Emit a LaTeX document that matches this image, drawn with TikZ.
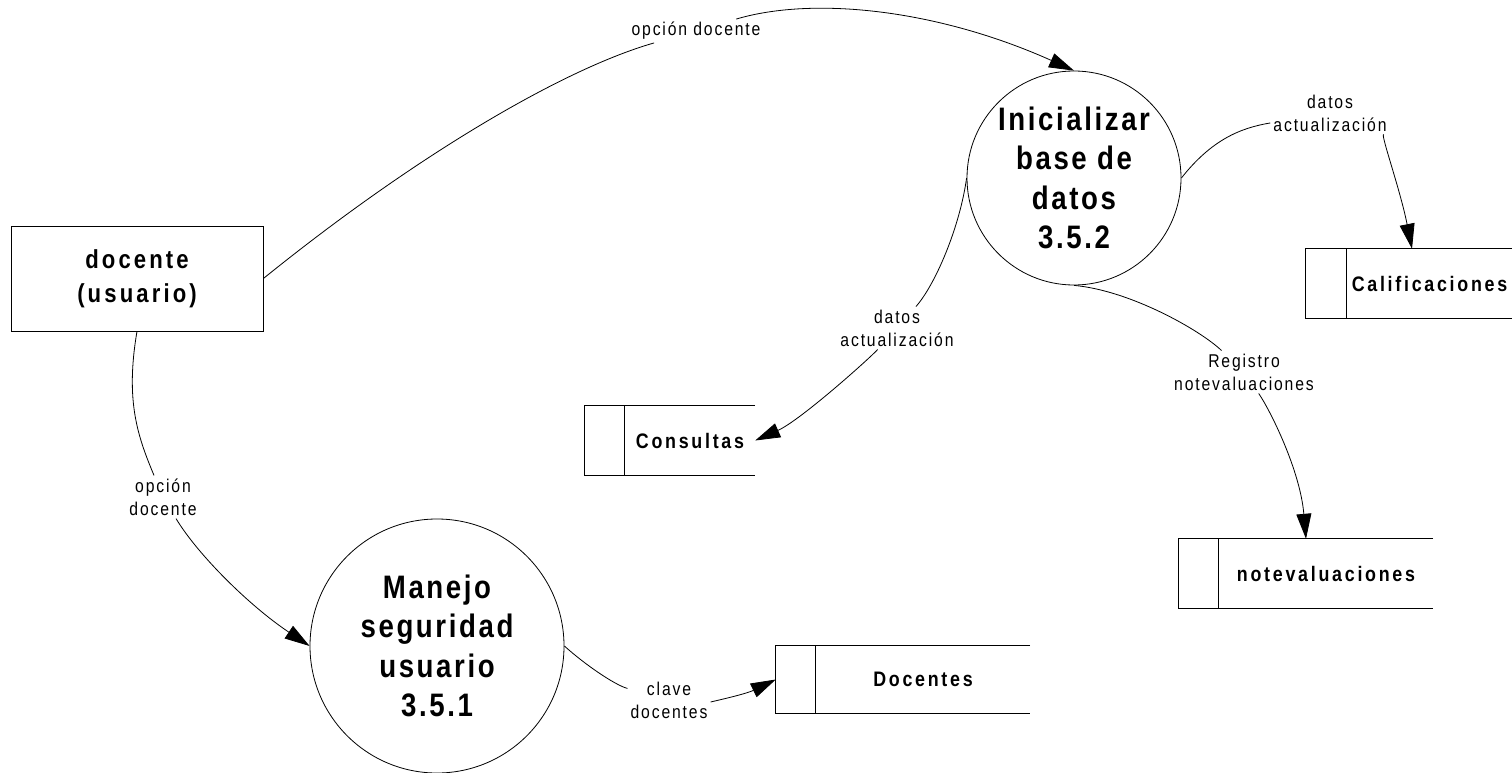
\documentclass[tikz,border=0pt]{standalone}
\usepackage{fontspec}
\setmainfont{Liberation Sans}
% narrow, tracked sans for the diagram texts
\newfontfamily\procfont[FakeStretch=0.85,LetterSpace=8]{Liberation Sans}
\newfontfamily\entfont[FakeStretch=0.85,LetterSpace=12]{Liberation Sans}
\newfontfamily\storefont[FakeStretch=0.85,LetterSpace=13]{Liberation Sans}
\newfontfamily\flowfont[FakeStretch=0.85,LetterSpace=10]{Liberation Sans}
\usetikzlibrary{arrows.meta,calc}

\begin{document}
\begin{tikzpicture}[x=1pt,y=-1pt,
  line/.style={line width=0.8pt, draw=black},
  flow/.style={line, -{Triangle[length=25pt,width=15pt]}},
  entity/.style={draw, line width=0.8pt, minimum width=252pt, minimum height=105pt,
    inner sep=0pt, align=center, font=\entfont\bfseries\fontsize{26}{34}\selectfont},
  process/.style={draw, circle, line width=0.8pt, inner sep=0pt, align=center,
    font=\procfont\bfseries\fontsize{32.5}{39.5}\selectfont},
  storebox/.style={inner sep=0pt, minimum height=69pt},
  storetext/.style={inner sep=0pt, font=\storefont\bfseries\fontsize{21}{25}\selectfont},
  flowlabel/.style={align=center, inner sep=3pt, font=\flowfont\fontsize{18.5}{23}\selectfont},
]
\useasboundingbox (0,0) rectangle (1512,773);

% external entity and processes
\node[entity] (doc) at (137,278.5) {docente\\(usuario)};
\node[process, minimum size=214pt] (p352) at (1074,178) {Inicializar\\base de\\datos\\3.5.2};
\node[process, minimum size=254pt] (p351) at (437,646) {Manejo\\seguridad\\usuario\\3.5.1};

% data stores (open on the right)
\node[storebox, minimum width=206pt] (cal) at (1409,283.5) {};
\draw[line] (cal.north east) -- (cal.north west) -- (cal.south west) -- (cal.south east);
\draw[line] ([xshift=41pt]cal.north west) -- ([xshift=41pt]cal.south west);
\node[storetext] (calt) at ($([xshift=41pt]cal.west)!0.5!(cal.east)$) {Calificaciones};

\node[storebox, minimum width=170pt] (con) at (670,440.5) {};
\draw[line] (con.north east) -- (con.north west) -- (con.south west) -- (con.south east);
\draw[line] ([xshift=40pt]con.north west) -- ([xshift=40pt]con.south west);
\node[storetext] (cont) at ($([xshift=40pt]con.west)!0.5!(con.east)$) {Consultas};

\node[storebox, minimum width=254pt] (nev) at (1306,573.5) {};
\draw[line] (nev.north east) -- (nev.north west) -- (nev.south west) -- (nev.south east);
\draw[line] ([xshift=40pt]nev.north west) -- ([xshift=40pt]nev.south west);
\node[storetext] (nevt) at ($([xshift=40pt]nev.west)!0.5!(nev.east)$) {notevaluaciones};

\node[storebox, minimum width=254pt, minimum height=67pt] (dcn) at (903,679.5) {};
\draw[line] (dcn.north east) -- (dcn.north west) -- (dcn.south west) -- (dcn.south east);
\draw[line] ([xshift=40pt]dcn.north west) -- ([xshift=40pt]dcn.south west);
\node[storetext] (dcnt) at ($([xshift=40pt]dcn.west)!0.5!(dcn.east)$) {Docentes};

% flow labels
\node[flowlabel] (l1) at (696,31) {opción docente};
\node[flowlabel] (l2) at (163,497) {opción\\docente};
\node[flowlabel] (l3) at (1330,113) {datos\\actualización};
\node[flowlabel] (l4) at (897,328) {datos\\actualización};
\node[flowlabel] (l5) at (1244,372) {Registro\\notevaluaciones};
\node[flowlabel] (l6) at (669,700) {clave\\docentes};

% flows
\draw[line] (doc.east) .. controls +(156,-126) and +(-130,37) .. (l1);
\draw[flow] (l1) .. controls +(118,-35) and +(-136,-61) .. (p352.north);

\draw[line] (doc.south) .. controls +(-12,70) and +(-25,-60) .. (l2);
\draw[flow] (l2) .. controls +(35,58) and +(-60,-40) .. (p351.west);

\draw[line] (p352.east) .. controls +(30,-38) and +(-90,15) .. (l3);
\draw[flow] (l3) .. controls +(50,20) and +(-12,-60) .. ([xshift=3pt]cal.north);

\draw[line] (p352.west) .. controls +(-7,50) and +(38,-43) .. (l4);
\draw[flow] (l4) .. controls +(-27,30) and +(45,-20) .. (con.east);

\draw[line] (p352.south) .. controls +(56,5) and +(-44,-42) .. (l5);
\draw[flow] (l5) .. controls +(26,38) and +(-6,-69) .. (nev.north);

\draw[line] (p351.east) .. controls +(21,19) and +(-54,-15) .. (l6);
\draw[flow] (l6) .. controls +(41,2) and +(-31,15) .. (dcn.west);
\end{tikzpicture}
\end{document}
